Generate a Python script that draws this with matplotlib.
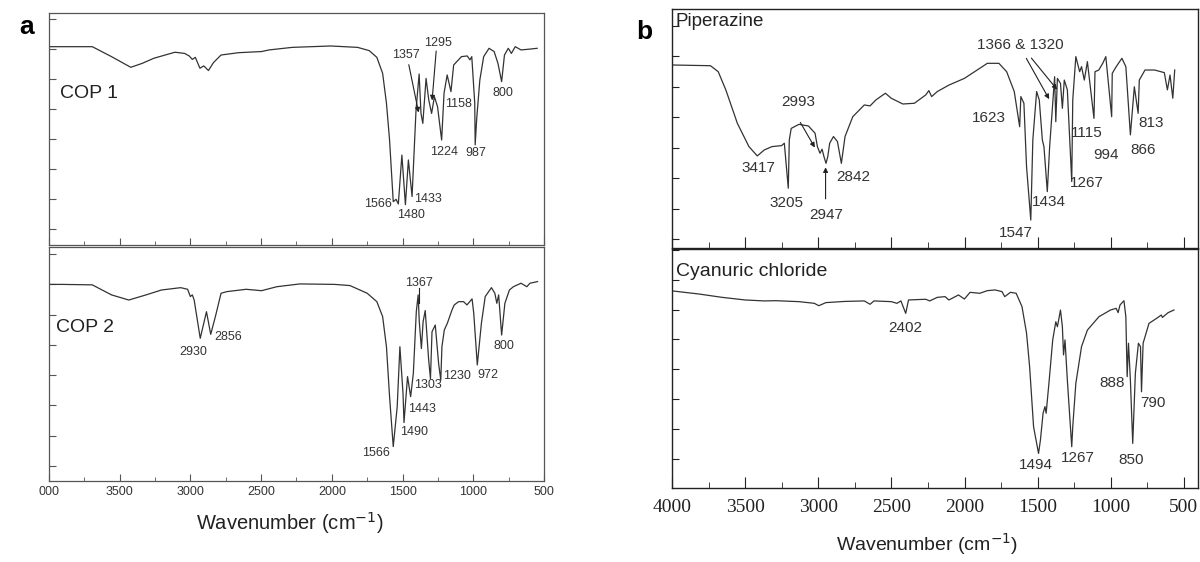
import matplotlib
matplotlib.use("Agg")
import matplotlib.pyplot as plt
import numpy as np
from matplotlib.ticker import MultipleLocator

plt.rcParams['font.family'] = ['Liberation Sans', 'DejaVu Sans']

# ---- COP 1 (panel a, top) : wavenumber (cm-1), transmittance (a.u.)
cop1_w = [4000, 3693, 3557, 3421, 3340, 3258, 3109, 3041, 3008, 2986, 2965, 2932, 2905, 2872,
          2837, 2783, 2660, 2497, 2443, 2280, 2008, 1818, 1736, 1682, 1641, 1614, 1592, 1566,
          1546, 1530, 1505, 1480, 1459, 1433, 1405, 1383, 1370, 1357, 1334, 1315, 1295, 1275,
          1253, 1224, 1207, 1185, 1158, 1139, 1084, 1043, 1024, 1011, 990, 987, 976, 954, 927,
          889, 853, 826, 800, 780, 753, 731, 704, 663, 609, 549]
cop1_t = [85.6, 85.6, 81.3, 76.7, 78.4, 80.6, 83.2, 82.7, 81.6, 80.1, 81.0, 76.3, 77.3, 75.3,
          78.7, 82.0, 83.0, 83.5, 84.2, 85.3, 85.9, 85.3, 83.9, 81.0, 74.1, 61.2, 45.3, 18.7,
          19.7, 17.7, 38.8, 17.4, 36.7, 20.9, 58.3, 73.8, 56.8, 52.5, 71.9, 62.6, 56.8, 64.0,
          59.7, 45.3, 65.5, 73.4, 66.2, 77.7, 81.3, 81.6, 79.9, 81.3, 61.2, 43.2, 54.7, 71.2, 81.3,
          84.9, 83.5, 78.4, 70.5, 82.0, 84.9, 82.7, 85.6, 84.2, 84.5, 84.9]

# ---- COP 2 (panel a, bottom)
cop2_w = [4000, 3910, 3693, 3557, 3435, 3313, 3204, 3068, 3019, 3000, 2986, 2973, 2930, 2886,
          2856, 2823, 2783, 2742, 2606, 2497, 2389, 2226, 1981, 1872, 1750, 1682, 1641, 1614,
          1592, 1566, 1538, 1519, 1497, 1490, 1465, 1443, 1424, 1403, 1390, 1382, 1367, 1355,
          1340, 1316, 1303, 1292, 1269, 1245, 1230, 1222, 1205, 1184, 1151, 1135, 1104, 1069,
          1045, 1009, 997, 972, 943, 916, 872, 848, 834, 821, 800, 777, 745, 717, 663, 622,
          600, 546]
cop2_t = [84.1, 84.1, 83.9, 79.6, 77.4, 79.6, 81.7, 82.7, 82.0, 78.9, 79.6, 77.4, 61.0, 72.4,
          62.7, 70.3, 80.3, 81.0, 82.0, 81.4, 83.1, 84.3, 84.1, 83.6, 80.3, 76.7, 70.3, 57.4,
          36.0, 14.6, 31.7, 57.4, 37.4, 24.9, 44.6, 36.0, 46.0, 72.4, 79.6, 68.1, 56.6, 68.1,
          72.9, 52.0, 43.7, 63.8, 66.7, 50.0, 43.1, 57.4, 64.6, 67.4, 73.1, 75.3, 76.7, 76.7,
          75.3, 77.9, 71.7, 49.6, 67.4, 78.9, 82.7, 80.3, 76.0, 79.6, 62.4, 76.0, 81.7, 83.1,
          84.6, 83.1, 84.6, 85.3]

# ---- Piperazine (panel b, top)
pip_w = [4000, 3737, 3684, 3632, 3553, 3474, 3417, 3369, 3316, 3251, 3232, 3205, 3198, 3185,
         3132, 3067, 3022, 3006, 2988, 2974, 2961, 2947, 2935, 2922, 2896, 2869, 2842, 2817,
         2764, 2685, 2646, 2606, 2541, 2501, 2422, 2343, 2265, 2244, 2225, 2186, 2107, 2001,
         1896, 1844, 1765, 1712, 1660, 1623, 1615, 1594, 1576, 1547, 1533, 1507, 1489, 1468,
         1457, 1434, 1418, 1397, 1384, 1376, 1365, 1344, 1331, 1318, 1297, 1267, 1260, 1239,
         1213, 1200, 1181, 1160, 1115, 1108, 1082, 1055, 1034, 994, 990, 963, 924, 897, 866,
         839, 813, 805, 766, 700, 634, 613, 595, 576, 563]
pip_t = [76.6, 76.3, 73.8, 66.2, 52.2, 42.5, 38.6, 41.1, 42.5, 42.9, 43.9, 25.1, 45.3, 50.1,
         51.8, 51.1, 48.1, 42.5, 39.7, 41.4, 38.3, 35.5, 38.3, 43.9, 46.7, 44.6, 35.5, 46.7,
         55.0, 59.9, 59.5, 62.0, 64.8, 62.7, 60.3, 60.6, 64.1, 65.9, 63.4, 65.5, 68.2, 71.0,
         75.2, 77.3, 77.3, 73.8, 65.5, 50.8, 63.4, 60.6, 34.1, 11.8, 45.3, 65.5, 62.0, 45.3,
         42.5, 23.7, 42.5, 60.6, 71.7, 52.9, 71.0, 68.9, 58.5, 70.3, 66.2, 27.9, 62.0, 80.1,
         73.8, 75.9, 70.3, 78.0, 54.3, 73.8, 74.5, 77.3, 80.1, 55.0, 73.1, 75.9, 79.4, 75.9,
         47.4, 67.5, 56.4, 70.3, 74.5, 74.5, 73.4, 66.2, 72.4, 62.7, 74.5]

# ---- Cyanuric chloride (panel b, bottom)
cya_w = [4000, 3816, 3658, 3500, 3369, 3290, 3132, 3027, 2996, 2948, 2817, 2685, 2646, 2619,
         2501, 2462, 2435, 2402, 2383, 2265, 2238, 2186, 2133, 2107, 2041, 2001, 1962, 1896,
         1844, 1791, 1744, 1725, 1686, 1647, 1607, 1576, 1555, 1528, 1494, 1481, 1463, 1450,
         1442, 1423, 1397, 1376, 1365, 1344, 1331, 1323, 1313, 1297, 1267, 1260, 1239, 1200,
         1160, 1081, 1002, 963, 950, 937, 910, 897, 888, 879, 866, 850, 832, 811, 797, 790,
         779, 739, 687, 655, 647, 608, 568]
cya_t = [82.6, 81.3, 79.9, 78.8, 78.4, 78.5, 78.1, 77.4, 76.4, 77.7, 78.2, 78.4, 77.0, 78.4,
         78.1, 77.4, 78.4, 73.2, 78.8, 79.1, 78.4, 79.9, 80.2, 78.8, 80.9, 79.2, 82.0, 81.6,
         82.7, 83.0, 82.3, 80.2, 82.0, 81.6, 76.0, 64.9, 50.9, 25.8, 14.6, 20.2, 31.4, 34.2,
         31.4, 43.9, 62.1, 69.7, 67.6, 74.6, 67.6, 55.8, 62.1, 45.3, 17.4, 25.8, 43.9, 59.3,
         66.2, 71.8, 74.6, 75.3, 73.5, 76.7, 78.5, 71.8, 46.7, 60.7, 45.3, 18.8, 48.1, 60.7,
         59.3, 40.4, 60.7, 69.0, 71.1, 72.5, 71.5, 73.5, 74.6]

# peak labels: (text, wavenumber, transmittance)
cop1_labels = [("1295", 1247, 87.0), ("1357", 1478, 82.0), ("1158", 1106, 61.0), ("800", 791, 65.5),
               ("1224", 1206, 40.0), ("987", 984, 39.6), ("1566", 1674, 17.7), ("1433", 1323, 19.9),
               ("1480", 1437, 12.9)]
cop2_labels = [("2930", 2981, 55.3), ("2856", 2736, 61.7), ("1367", 1383, 84.9), ("1303", 1323, 41.0),
               ("1443", 1361, 30.6), ("1490", 1416, 20.7), ("1566", 1690, 12.0), ("1230", 1117, 45.0),
               ("972", 899, 45.4), ("800", 785, 57.6)]
pip_labels = [("3417", 3408, 33.4), ("3205", 3216, 18.9), ("2947", 2947, 13.9), ("2842", 2764, 29.9),
              ("2993", 3139, 61.3), ("1623", 1833, 54.3), ("1547", 1651, 6.3), ("1434", 1423, 19.5),
              ("1267", 1161, 27.2), ("1115", 1161, 48.1), ("994", 1036, 39.0), ("866", 781, 41.1),
              ("813", 726, 52.4), ("1366 & 1320", 1617, 85.0)]
cya_labels = [("2402", 2404, 67.0), ("1494", 1515, 9.8), ("1267", 1226, 12.6), ("850", 858, 11.9),
              ("888", 989, 43.9), ("790", 713, 35.8)]

fig = plt.figure(figsize=(12, 5.62), dpi=100)

ax_a1 = fig.add_axes([0.0407, 0.5641, 0.4127, 0.4122])
ax_a2 = fig.add_axes([0.0407, 0.1447, 0.4127, 0.4153])
ax_b1 = fig.add_axes([0.56, 0.5582, 0.4383, 0.4258])
ax_b2 = fig.add_axes([0.56, 0.1311, 0.4383, 0.4253])

line_kw = dict(color='#333333', lw=0.9)
lab_col = '#333333'

ax_a1.plot(cop1_w, cop1_t, **line_kw)
ax_a2.plot(cop2_w, cop2_t, **line_kw)
ax_b1.plot(pip_w, pip_t, **line_kw)
ax_b2.plot(cya_w, cya_t, **line_kw)

# panel a styling
for ax, y0 in ((ax_a1, 6.9), (ax_a2, 6.4)):
    ax.set_xlim(4000, 500)
    ax.set_ylim(0, 100)
    ax.xaxis.set_major_locator(MultipleLocator(500))
    ax.xaxis.set_minor_locator(MultipleLocator(250))
    ax.set_yticks(np.arange(y0, 100, 12.95))
    ax.tick_params(axis='both', which='both', direction='in', colors='#555555',
                   labelcolor='#333333', labelsize=9)
    ax.tick_params(axis='x', which='major', length=5)
    ax.tick_params(axis='x', which='minor', length=3)
    ax.tick_params(axis='y', length=5, labelleft=False)
    for s in ax.spines.values():
        s.set_color('#555555')
        s.set_linewidth(0.9)
ax_a1.tick_params(axis='x', labelbottom=False)
ax_a2.set_xticks([4000, 3500, 3000, 2500, 2000, 1500, 1000, 500])
ax_a2.set_xticklabels(["000", "3500", "3000", "2500", "2000", "1500", "1000", "500"])
ax_a2.set_xlabel("Wavenumber (cm$^{-1}$)", fontsize=14.5, color='#222222', labelpad=10)
ax_a2.xaxis.set_label_coords(0.486, -0.125)

# panel b styling
for ax, y0 in ((ax_b1, 3.8), (ax_b2, 12.3)):
    ax.set_xlim(4000, 404)
    ax.set_ylim(0, 100)
    ax.xaxis.set_major_locator(MultipleLocator(500))
    ax.xaxis.set_minor_locator(MultipleLocator(250))
    ax.set_yticks(np.arange(y0, 100, 12.75 if ax is ax_b1 else 12.5))
    ax.tick_params(axis='both', which='both', direction='in', colors='#222222')
    ax.tick_params(axis='x', which='major', length=8)
    ax.tick_params(axis='x', which='minor', length=4)
    ax.tick_params(axis='y', length=5, labelleft=False)
    for s in ax.spines.values():
        s.set_color('#222222')
        s.set_linewidth(1.0)
ax_b1.tick_params(axis='x', labelbottom=False)
ax_b2.tick_params(axis='x', labelsize=14, pad=8)
for t in ax_b2.get_xticklabels():
    t.set_family('Liberation Serif')
ax_b2.set_xlabel("Wavenumber (cm$^{-1}$)", fontsize=14, color='#222222')
ax_b2.xaxis.set_label_coords(0.484, -0.18)

# peak labels
for ax, labels, fs in ((ax_a1, cop1_labels, 9), (ax_a2, cop2_labels, 9),
                       (ax_b1, pip_labels, 11), (ax_b2, cya_labels, 11)):
    for txt, w, t in labels:
        ax.text(w, t, txt, ha='center', va='center', fontsize=fs, color=lab_col)

# sample names
ax_a1.text(3924, 65.5, "COP 1", ha='left', va='center', fontsize=14, color='#222222')
ax_a2.text(3951, 65.7, "COP 2", ha='left', va='center', fontsize=14, color='#222222')
ax_b1.text(3974, 94.7, "Piperazine", ha='left', va='center', fontsize=13.5, color='#222222')
ax_b2.text(3974, 90.7, "Cyanuric chloride", ha='left', va='center', fontsize=14, color='#222222')

# leader lines / arrows
arr = dict(arrowstyle='-|>', color='#222222', lw=0.8, mutation_scale=7)
ax_a1.annotate("", xy=(1383, 56.0), xytext=(1460, 79.0), arrowprops=arr)
ax_a1.annotate("", xy=(1293, 61.2), xytext=(1261, 84.9), arrowprops=arr)
ax_a2.plot([1383, 1383], [82.5, 76.0], color='#222222', lw=0.8)
ax_b1.annotate("", xy=(3014, 41.1), xytext=(3132, 53.6), arrowprops=arr)
ax_b1.annotate("", xy=(2950, 35.0), xytext=(2950, 19.5), arrowprops=arr)
ax_b1.annotate("", xy=(1412, 61.3), xytext=(1587, 80.4), arrowprops=arr)
ax_b1.annotate("", xy=(1355, 65.4), xytext=(1555, 80.4), arrowprops=arr)

# panel letters
fig.text(0.0225, 0.952, "a", fontsize=19, fontweight='bold', ha='center', va='center')
fig.text(0.537, 0.943, "b", fontsize=19, fontweight='bold', ha='center', va='center')

plt.savefig('out.png', dpi=100)
